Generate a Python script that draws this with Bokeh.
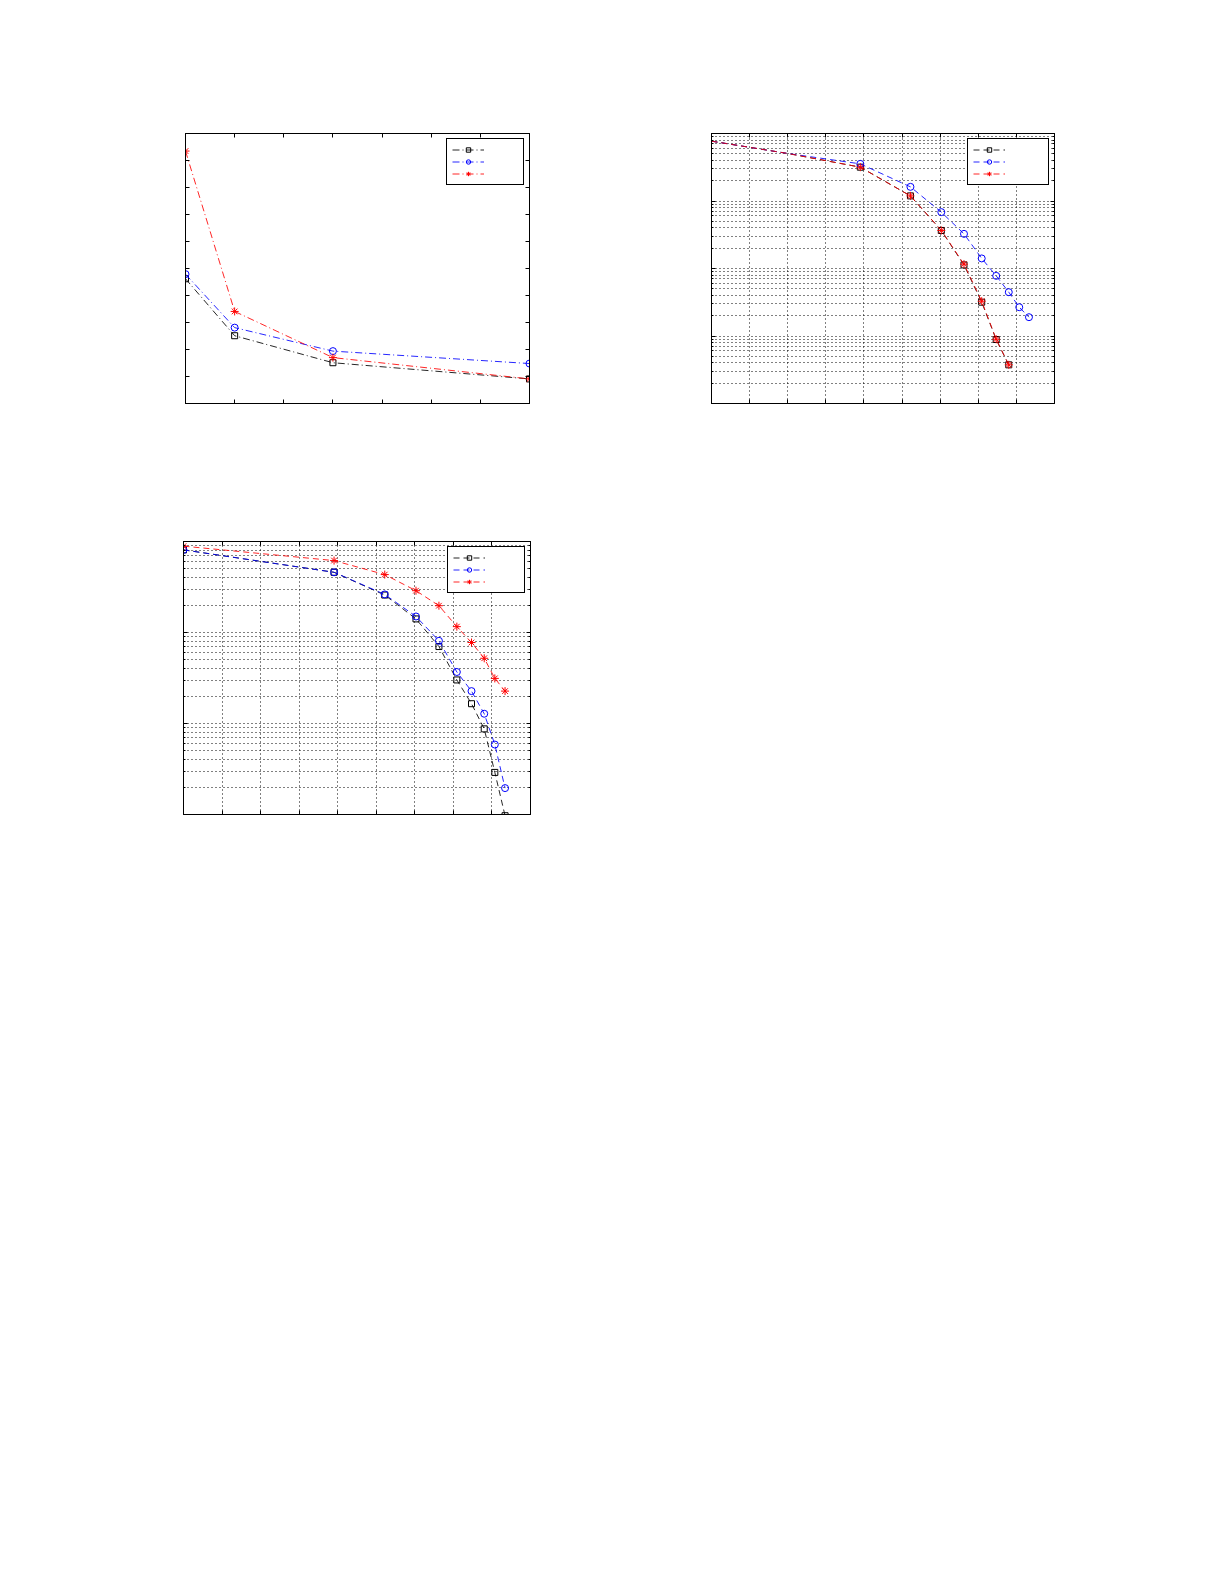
from bokeh.plotting import figure
from bokeh.models import (Range1d, LinearAxis, LogAxis, FixedTicker, Legend,
                          LegendItem, ColumnDataSource, CustomJSTickFormatter)
from bokeh.layouts import column, row
from bokeh.embed import file_html
from bokeh.resources import INLINE

# ---------------- data ----------------
# Plot 1 (linear axes)
p1_x = [1, 2, 4, 8]
p1_black = [4.62, 2.51, 1.51, 0.91]
p1_blue = [4.79, 2.81, 1.94, 1.48]
p1_red = [9.35, 3.41, 1.70, 0.91]
p1_xticks = [1, 2, 3, 4, 5, 6, 7, 8]
p1_yticks = [0, 1, 2, 3, 4, 5, 6, 7, 8, 9, 10]

# Plot 2 (log y)
p2_start_x = [0.0, 4.0]
p2_start_y = [0.77, 0.506]
p2_x = [7.81, 10.44, 12.06, 13.25, 14.18, 14.94, 15.60, 16.15, 16.66]
p2_black = [0.317, 0.119, 0.0366, 0.0113, 0.00317, 8.87e-4, 3.74e-4]
p2_red = [0.317, 0.119, 0.0366, 0.0116, 0.00328, 8.96e-4, 3.74e-4]
p2_blue = [0.355, 0.162, 0.0684, 0.0326, 0.0141, 0.00778, 0.00446, 0.00267, 0.00190]

# Plot 3 (log y)
p3_x = [0.0, 7.81, 10.44, 12.06, 13.25, 14.18, 14.94, 15.60, 16.15, 16.68]
p3_black = [0.809, 0.459, 0.258, 0.141, 0.0701, 0.0301, 0.0165, 0.00873, 0.00290, 0.00097]
p3_blue = [0.809, 0.459, 0.262, 0.150, 0.0810, 0.0368, 0.0227, 0.0128, 0.00587, 0.00195]
p3_red = [0.889, 0.617, 0.433, 0.288, 0.197, 0.116, 0.0776, 0.0521, 0.0313, 0.0227]

snr_ticks = [0, 2, 4, 6, 8, 10, 12, 14, 16, 18]

BLACK = "#000000"
BLUE = "#0000ff"
RED = "#ff0000"


def log_ticks(lo_exp, hi_exp):
    major = [10.0 ** e for e in range(lo_exp, hi_exp + 1)]
    minor = [k * 10.0 ** e for e in range(lo_exp, hi_exp) for k in range(2, 10)]
    return FixedTicker(ticks=major, minor_ticks=minor)


def style_axis(ax, ticker, minor=False):
    ax.ticker = ticker
    ax.formatter = CustomJSTickFormatter(code="return ''")
    ax.major_tick_in = 4
    ax.major_tick_out = 0
    ax.major_tick_line_color = "black"
    ax.axis_line_color = "black"
    ax.major_label_standoff = 0
    if minor:
        ax.minor_tick_in = 2
        ax.minor_tick_out = 0
        ax.minor_tick_line_color = "black"
    else:
        ax.minor_tick_line_color = None


def make_fig(W, H, L, T, R, B, xr, yr, log=False):
    p = figure(width=W, height=H, x_range=xr, y_range=yr,
               y_axis_type="log" if log else "linear",
               output_backend="svg", toolbar_location=None,
               min_border_left=L, min_border_top=T,
               min_border_right=R, min_border_bottom=B)
    p.background_fill_color = "white"
    p.border_fill_color = "white"
    p.outline_line_color = "black"
    p.outline_line_width = 1
    p.outline_line_alpha = 1
    return p


def add_axes(p, xt, yt, log=False):
    style_axis(p.xaxis[0], xt)
    style_axis(p.yaxis[0], yt, minor=log)
    top = LinearAxis()
    style_axis(top, xt)
    p.add_layout(top, "above")
    right = LogAxis() if log else LinearAxis()
    style_axis(right, yt, minor=log)
    p.add_layout(right, "right")


def add_legend(p, items, label_width):
    leg = Legend(items=items, location="top_right", margin=5, padding=5,
                 spacing=1, glyph_width=32, glyph_height=11,
                 label_width=label_width, label_height=11, label_standoff=5,
                 border_line_color="black", border_line_width=1,
                 border_line_alpha=1, background_fill_color="white",
                 background_fill_alpha=1, label_text_font_size="8px")
    p.add_layout(leg)


def style_log_grid(p, xt, yt):
    for g in (p.xgrid, p.ygrid):
        g.grid_line_color = "black"
        g.grid_line_dash = "1 3"
        g.grid_line_alpha = 1
    p.xgrid.ticker = xt
    p.ygrid.ticker = yt
    p.ygrid.minor_grid_line_color = "black"
    p.ygrid.minor_grid_line_dash = "1 3"
    p.ygrid.minor_grid_line_alpha = 1


# ---------------- plot 1 ----------------
p1 = make_fig(579, 453, 185, 133, 50, 50, Range1d(1, 8), Range1d(0, 10))
add_axes(p1, FixedTicker(ticks=p1_xticks), FixedTicker(ticks=p1_yticks))
p1.xgrid.grid_line_color = None
p1.ygrid.grid_line_color = None
DD = "7 3 1 3"
items = []
for ys, col, mk, sz in [(p1_black, BLACK, "square", 6),
                        (p1_blue, BLUE, "circle", 7),
                        (p1_red, RED, "asterisk", 8)]:
    src = ColumnDataSource(dict(x=p1_x, y=ys))
    l = p1.line("x", "y", source=src, line_color=col, line_dash=DD,
                line_width=1, line_alpha=0.85)
    s = p1.scatter("x", "y", source=src, marker=mk, size=sz,
                   line_color=col, fill_color=None, line_width=1)
    items.append(LegendItem(label=" ", renderers=[l, s]))
add_legend(p1, items, 29)

# ---------------- plot 2 ----------------
p2 = make_fig(525, 453, 132, 133, 50, 50, Range1d(0, 18), Range1d(1e-4, 1), log=True)
xt2 = FixedTicker(ticks=snr_ticks)
yt2 = log_ticks(-4, 0)
add_axes(p2, xt2, yt2, log=True)
style_log_grid(p2, xt2, yt2)
DS = "6 4"
items = []
for ys, col, mk, sz in [(p2_black, BLACK, "square", 6),
                        (p2_blue, BLUE, "circle", 7),
                        (p2_red, RED, "asterisk", 8)]:
    n = len(ys)
    lx = p2_start_x + p2_x[:n]
    ly = p2_start_y + ys
    l = p2.line(lx, ly, line_color=col, line_dash=DS, line_width=1, line_alpha=0.85)
    s = p2.scatter(p2_x[:n], ys, marker=mk, size=sz, line_color=col,
                   fill_color=None, line_width=1)
    items.append(LegendItem(label=" ", renderers=[l, s]))
add_legend(p2, items, 33)

# ---------------- plot 3 ----------------
p3 = make_fig(580, 411, 183, 88, 50, 50, Range1d(0, 18), Range1d(1e-3, 1), log=True)
xt3 = FixedTicker(ticks=snr_ticks)
yt3 = log_ticks(-3, 0)
add_axes(p3, xt3, yt3, log=True)
style_log_grid(p3, xt3, yt3)
items = []
for ys, col, mk, sz in [(p3_black, BLACK, "square", 6),
                        (p3_blue, BLUE, "circle", 7),
                        (p3_red, RED, "asterisk", 8)]:
    src = ColumnDataSource(dict(x=p3_x, y=ys))
    l = p3.line("x", "y", source=src, line_color=col, line_dash=DS,
                line_width=1, line_alpha=0.85)
    s = p3.scatter("x", "y", source=src, marker=mk, size=sz,
                   line_color=col, fill_color=None, line_width=1)
    items.append(LegendItem(label=" ", renderers=[l, s]))
add_legend(p3, items, 29)

layout = column(row(p1, p2), p3)
open("out.html", "w").write(file_html(layout, INLINE))
